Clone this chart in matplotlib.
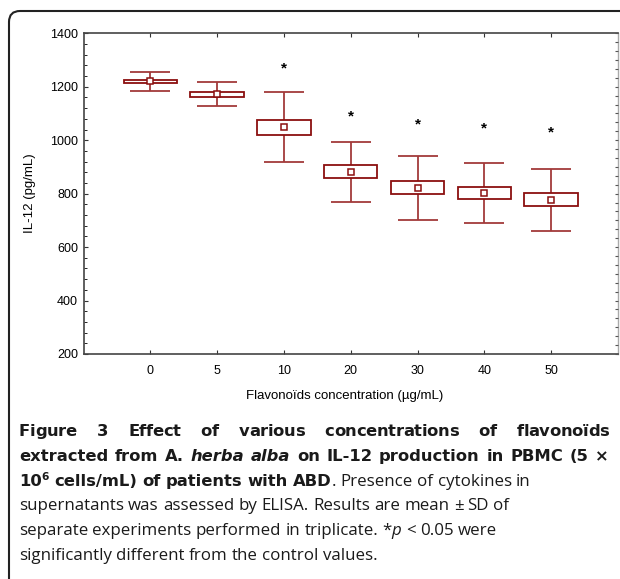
import numpy as np
import matplotlib
matplotlib.use("Agg")
import matplotlib.pyplot as plt
import matplotlib.patches as patches
from matplotlib.transforms import IdentityTransform
from matplotlib.ticker import MultipleLocator

# data
conc = ["0", "5", "10", "20", "30", "40", "50"]
means = [1220, 1172, 1049, 882, 822, 803, 777]
box_half = [5, 9, 28, 25, 25, 23, 25]
sd = [36, 45, 130, 112, 120, 111, 116]
star_groups = [2, 3, 4, 5, 6]
star_y = [1268, 1090, 1058, 1044, 1029]

W, H, DPI = 620, 579, 100
RED = "#8b0f0f"
WHISK = "#a33a3a"

fig = plt.figure(figsize=(W / DPI, H / DPI), dpi=DPI)
plt.rcParams['font.family'] = ['Liberation Sans', 'DejaVu Sans']


def px(x0, y0, x1, y1):
    # pixel box (from top-left) -> figure fraction rect
    return [x0 / W, 1 - y1 / H, (x1 - x0) / W, (y1 - y0) / H]


ax = fig.add_axes(px(83.5, 33.3, 618, 354))
x = np.arange(len(conc))

ax.errorbar(x, means, yerr=sd, fmt='none', ecolor=WHISK, elinewidth=1.3,
            capsize=14.4, capthick=1.3, zorder=2)
ax.bar(x, [2 * b for b in box_half], bottom=[m - b for m, b in zip(means, box_half)],
       width=0.8, color='white', edgecolor=RED, linewidth=1.3, zorder=3)
ax.plot(x, means, linestyle='none', marker='s', markersize=5,
        markerfacecolor='white', markeredgecolor=RED, markeredgewidth=1.1, zorder=4)
for g, yy in zip(star_groups, star_y):
    ax.text(g, yy, '*', ha='center', va='center', fontsize=11,
            fontweight='bold', color='black')

ax.set_xlim(-1, 7)
ax.set_ylim(200, 1400)
ax.set_xticks(x)
ax.set_xticklabels(conc)
ax.yaxis.set_major_locator(MultipleLocator(200))
ax.yaxis.set_minor_locator(MultipleLocator(40))
ax.tick_params(axis='both', labelsize=9, direction='in', length=3, width=0.8,
               colors='#333333', labelcolor='black')
ax.tick_params(axis='x', top=True, pad=8)
ax.tick_params(axis='y', which='minor', direction='in', length=2, width=0.6)
ax.tick_params(axis='y', pad=4)

for side in ['left', 'bottom', 'top']:
    ax.spines[side].set_color('#444444')
    ax.spines[side].set_linewidth(1.2)
ax.spines['right'].set_color('#aaaaaa')
ax.spines['right'].set_linewidth(1.0)

# ticks on the right spine
axr = ax.twinx()
axr.set_ylim(200, 1400)
axr.yaxis.set_major_locator(MultipleLocator(200))
axr.yaxis.set_minor_locator(MultipleLocator(200 / 6))
axr.tick_params(axis='y', which='both', direction='in', length=2, width=0.8,
                labelright=False, colors='#555555')
for s in axr.spines.values():
    s.set_visible(False)

ax.set_ylabel('IL-12 (pg/mL)', fontsize=9.5, labelpad=10)
fig.text(345 / W, 1 - 396 / H, 'Flavonoïds concentration (µg/mL)',
         ha='center', va='center', fontsize=9.5)

# rounded frame (only the top-left corner shows)
frame = patches.FancyBboxPatch((9, -60), 720, 568 + 60,
                               boxstyle="round,pad=0,rounding_size=11",
                               fill=False, edgecolor='#222222', linewidth=1.5,
                               transform=IdentityTransform(), clip_on=False)
fig.add_artist(frame)

# caption, placed word by word
REG = ['Open Sans', 'DejaVu Sans']
BOLD = ['DejaVu Sans']
CAP_SIZE = 12.2
BOLD_SIZE = 11.8
styles = {
    'r': dict(family=REG, fontsize=CAP_SIZE, fontweight='normal', fontstyle='normal'),
    'i': dict(family=REG, fontsize=CAP_SIZE, fontweight='normal', fontstyle='italic'),
    'b': dict(family=BOLD, fontsize=BOLD_SIZE, fontweight='bold', fontstyle='normal'),
    'bi': dict(family=BOLD, fontsize=BOLD_SIZE, fontweight='bold', fontstyle='italic'),
    'bsup': dict(family=BOLD, fontsize=BOLD_SIZE * 0.65, fontweight='bold',
                 fontstyle='normal'),
}

# (segments, mode): mode is 'track' (letter-spaced + justified), 'justify' or 'left'
lines = [
    ([("Figure 3 Effect of various concentrations of flavonoïds", 'b')], 'track'),
    ([("extracted from A. ", 'b'), ("herba alba", 'bi'),
      (" on IL-12 production in PBMC (5 ×", 'b')], 'justify'),
    ([("10", 'b'), ("6", 'bsup'), (" cells/mL) of patients with ABD", 'b'),
      (". Presence of cytokines in", 'r')], 'left'),
    ([("supernatants was assessed by ELISA. Results are mean ± SD of", 'r')], 'left'),
    ([("separate experiments performed in triplicate. *", 'r'), ("p", 'i'),
      (" < 0.05 were", 'r')], 'left'),
    ([("significantly different from the control values.", 'r')], 'left'),
]
line_y = [436, 461, 486, 510.5, 535, 559.5]
X0, X1 = 19, 609
TRACK_GAP = 20

fig.canvas.draw()
renderer = fig.canvas.get_renderer()


def make_text(s, st):
    return fig.text(0, 0, s, color='#1a1a1a', ha='left', va='baseline',
                    **styles[st])


def space_for(st):
    em = styles[st]['fontsize'] * DPI / 72
    return (0.32 if st.startswith('b') else 0.25) * em


for (segs, mode), yb in zip(lines, line_y):
    # tokens: (word, style, attached_to_previous)
    tokens = []
    prev_space = True
    for s, st in segs:
        first = True
        for w in s.split(' '):
            if w == '':
                first = False
                continue
            attach = first and not prev_space and len(tokens) > 0
            tokens.append((w, st, attach))
            first = False
        prev_space = s.endswith(' ')

    # every token is drawn as a list of pieces (whole word, or its letters)
    pieces = []
    for w, st, a in tokens:
        parts = list(w) if mode == 'track' else [w]
        arts = [make_text(p, st) for p in parts]
        pieces.append([(t, t.get_window_extent(renderer).width) for t in arts])
    n_gaps = sum(1 for w, st, a in tokens[1:] if not a)
    ink = sum(wd for pc in pieces for t, wd in pc)
    track = 0.0
    gap = None
    if mode == 'track':
        n_in = sum(len(pc) - 1 for pc in pieces)
        track = (X1 - X0 - ink - n_gaps * TRACK_GAP) / n_in
        gap = TRACK_GAP
    elif mode == 'justify' and n_gaps:
        gap = (X1 - X0 - ink) / n_gaps

    xp = X0
    for i, ((w, st, a), pc) in enumerate(zip(tokens, pieces)):
        if i > 0 and not a:
            xp += gap if gap is not None else space_for(st)
        dy = 6 if st == 'bsup' else 0
        for j, (t, wd) in enumerate(pc):
            if j > 0:
                xp += track
            t.set_position((xp / W, 1 - (yb - dy) / H))
            xp += wd

fig.savefig('out.png', dpi=DPI)
